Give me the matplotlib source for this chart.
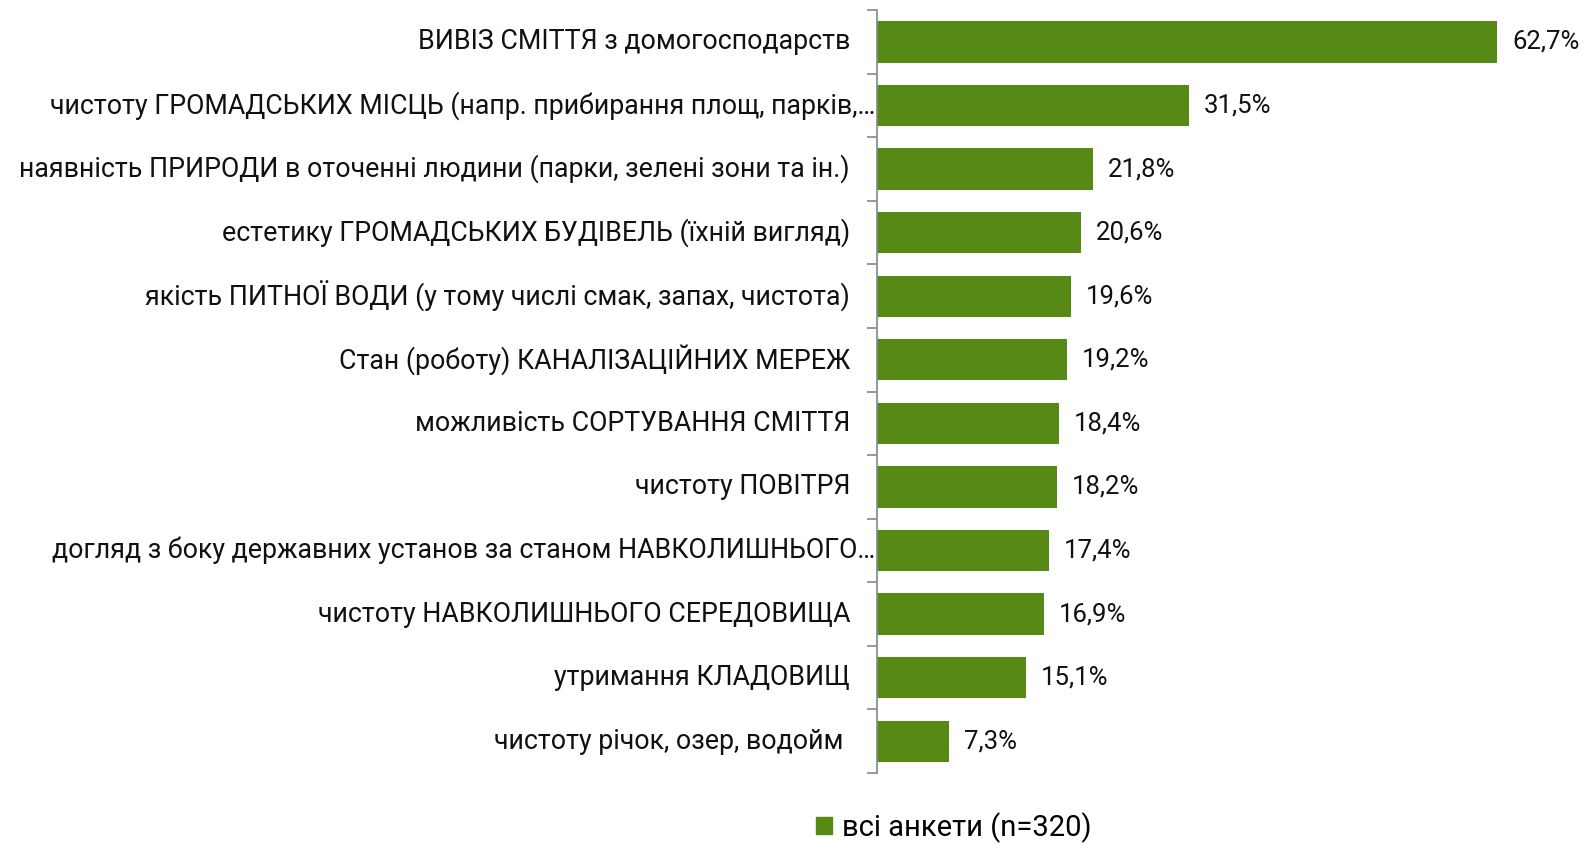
import numpy as np
import matplotlib.pyplot as plt
from matplotlib.patches import Patch

plt.rcParams['font.family'] = ['Roboto', 'DejaVu Sans']

categories = [
    'ВИВІЗ СМІТТЯ з домогосподарств',
    'чистоту ГРОМАДСЬКИХ МІСЦЬ (напр. прибирання площ, парків,…',
    'наявність ПРИРОДИ в оточенні людини (парки, зелені зони та ін.)',
    'естетику ГРОМАДСЬКИХ БУДІВЕЛЬ (їхній вигляд)',
    'якість ПИТНОЇ ВОДИ (у тому числі смак, запах, чистота)',
    'Стан (роботу) КАНАЛІЗАЦІЙНИХ МЕРЕЖ',
    'можливість СОРТУВАННЯ СМІТТЯ',
    'чистоту ПОВІТРЯ',
    'догляд з боку державних установ за станом НАВКОЛИШНЬОГО…',
    'чистоту НАВКОЛИШНЬОГО СЕРЕДОВИЩА',
    'утримання КЛАДОВИЩ',
    'чистоту річок, озер, водойм ',
]
values = [62.7, 31.5, 21.8, 20.6, 19.6, 19.2, 18.4, 18.2, 17.4, 16.9, 15.1, 7.3]
series_name = 'всі анкети (n=320)'

green = '#568a14'

fig = plt.figure(figsize=(15.84, 8.46), dpi=100)
ax = fig.add_axes([0.5537, 0.0863, 0.437, 0.9017])

y = np.arange(len(categories))
ax.barh(y, values, height=0.65, color=green)
ax.set_ylim(len(categories) - 0.5, -0.5)
ax.set_xlim(0, 70)

for yi, v in zip(y, values):
    ax.text(v + 1.5, yi, f'{v:.1f}%'.replace('.', ','), va='center', ha='left',
            fontsize=18.5, color='#111111')

# category labels, right-aligned next to the axis
trans = ax.get_yaxis_transform()
for yi, lab in zip(y, categories):
    xr = -0.003 if lab.endswith('…') else -0.039
    ax.text(xr, yi, lab, transform=trans, ha='right', va='center',
            fontsize=19.3, color='#111111')

ax.set_yticks([])
ax.set_yticks(np.arange(len(categories) + 1) - 0.5, minor=True)
ax.tick_params(axis='y', which='minor', length=7, color='#888888', width=1.2)
ax.set_xticks([])
for s in ['top', 'right', 'bottom']:
    ax.spines[s].set_visible(False)
ax.spines['left'].set_color('#888888')
ax.spines['left'].set_linewidth(1.2)

fig.legend(handles=[Patch(color=green, label=series_name)], loc='center',
           bbox_to_anchor=(0.602, 0.022), frameon=False, fontsize=21,
           handlelength=0.55, handleheight=0.55, handletextpad=0.35,
           borderpad=0)

fig.savefig('out.png', dpi=100)
